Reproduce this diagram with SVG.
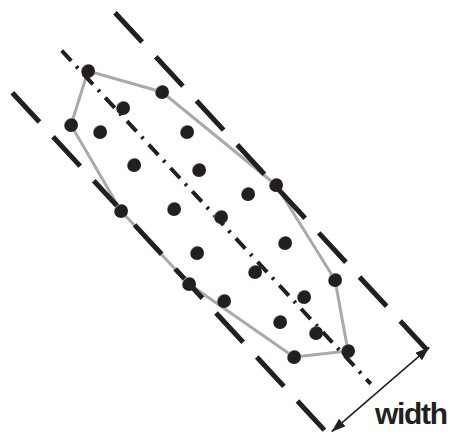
<svg xmlns="http://www.w3.org/2000/svg" width="451" height="436" viewBox="0 0 451 436">
<defs>
<radialGradient id="ball" cx="0.6" cy="0.6" r="0.62" fx="0.6" fy="0.6">
<stop offset="0" stop-color="#231f20"/>
<stop offset="0.86" stop-color="#231f20"/>
<stop offset="1" stop-color="#b5b5b5"/>
</radialGradient>
<marker id="ah" markerUnits="userSpaceOnUse" markerWidth="16" markerHeight="12" refX="14" refY="5" orient="auto-start-reverse">
<path d="M0,0 L14,5 L0,10 Z" fill="#231f20"/>
</marker>
</defs>
<style>
.bound{stroke:#231f20;stroke-width:5;stroke-dasharray:40 20;fill:none}
.center{stroke:#231f20;stroke-width:4;stroke-dasharray:14 7.5 2.5 8;fill:none}
.hull{stroke:#aaaaaa;stroke-width:3;fill:none;stroke-linejoin:round}
.dot{fill:url(#ball)}
.lbl{font-family:"Liberation Sans",Arial,sans-serif;font-size:30px;font-weight:bold;letter-spacing:-1.3px;fill:#231f20}
</style>
<rect width="451" height="436" fill="#ffffff"/>
<g id="connectors">
<polygon class="hull" points="88,71 162,92 276,185 335,280 348,351 294,357 189,284 121,211 71,125"/>
</g>
<g id="boundaries">
<line class="bound" x1="12.3" y1="92.7" x2="324.4" y2="430.1"/>
<line class="bound" x1="115" y1="12.7" x2="428.3" y2="351.3"/>
<line class="center" x1="61.7" y1="50.7" x2="370.7" y2="383.8"/>
</g>
<g id="hull-points">
<g id="h1"><circle class="dot" cx="88" cy="71" r="7"/></g>
<g id="h2"><circle class="dot" cx="162" cy="92" r="7"/></g>
<g id="h3"><circle class="dot" cx="276" cy="185" r="7"/></g>
<g id="h4"><circle class="dot" cx="335" cy="280" r="7"/></g>
<g id="h5"><circle class="dot" cx="348" cy="351" r="7"/></g>
<g id="h6"><circle class="dot" cx="294" cy="357" r="7"/></g>
<g id="h7"><circle class="dot" cx="189" cy="284" r="7"/></g>
<g id="h8"><circle class="dot" cx="121" cy="211" r="7"/></g>
<g id="h9"><circle class="dot" cx="71" cy="125" r="7"/></g>
</g>
<g id="inner-points">
<g id="p1"><circle class="dot" cx="123" cy="108" r="7"/></g>
<g id="p2"><circle class="dot" cx="100" cy="132" r="7"/></g>
<g id="p3"><circle class="dot" cx="187" cy="132" r="7"/></g>
<g id="p4"><circle class="dot" cx="134" cy="165" r="7"/></g>
<g id="p5"><circle class="dot" cx="199" cy="170" r="7"/></g>
<g id="p6"><circle class="dot" cx="248" cy="194" r="7"/></g>
<g id="p7"><circle class="dot" cx="174" cy="209" r="7"/></g>
<g id="p8"><circle class="dot" cx="221" cy="217" r="7"/></g>
<g id="p9"><circle class="dot" cx="285" cy="243" r="7"/></g>
<g id="p10"><circle class="dot" cx="197" cy="253" r="7"/></g>
<g id="p11"><circle class="dot" cx="255" cy="272" r="7"/></g>
<g id="p12"><circle class="dot" cx="224" cy="301" r="7"/></g>
<g id="p13"><circle class="dot" cx="304" cy="297" r="7"/></g>
<g id="p14"><circle class="dot" cx="280" cy="322" r="7"/></g>
<g id="p15"><circle class="dot" cx="316" cy="333" r="7"/></g>
</g>
<g id="width-dimension">
<line x1="331.7" y1="431.7" x2="429.3" y2="347.3" stroke="#231f20" stroke-width="1.6" marker-start="url(#ah)" marker-end="url(#ah)"/>
<text class="lbl" x="375" y="424">width</text>
</g>
</svg>
